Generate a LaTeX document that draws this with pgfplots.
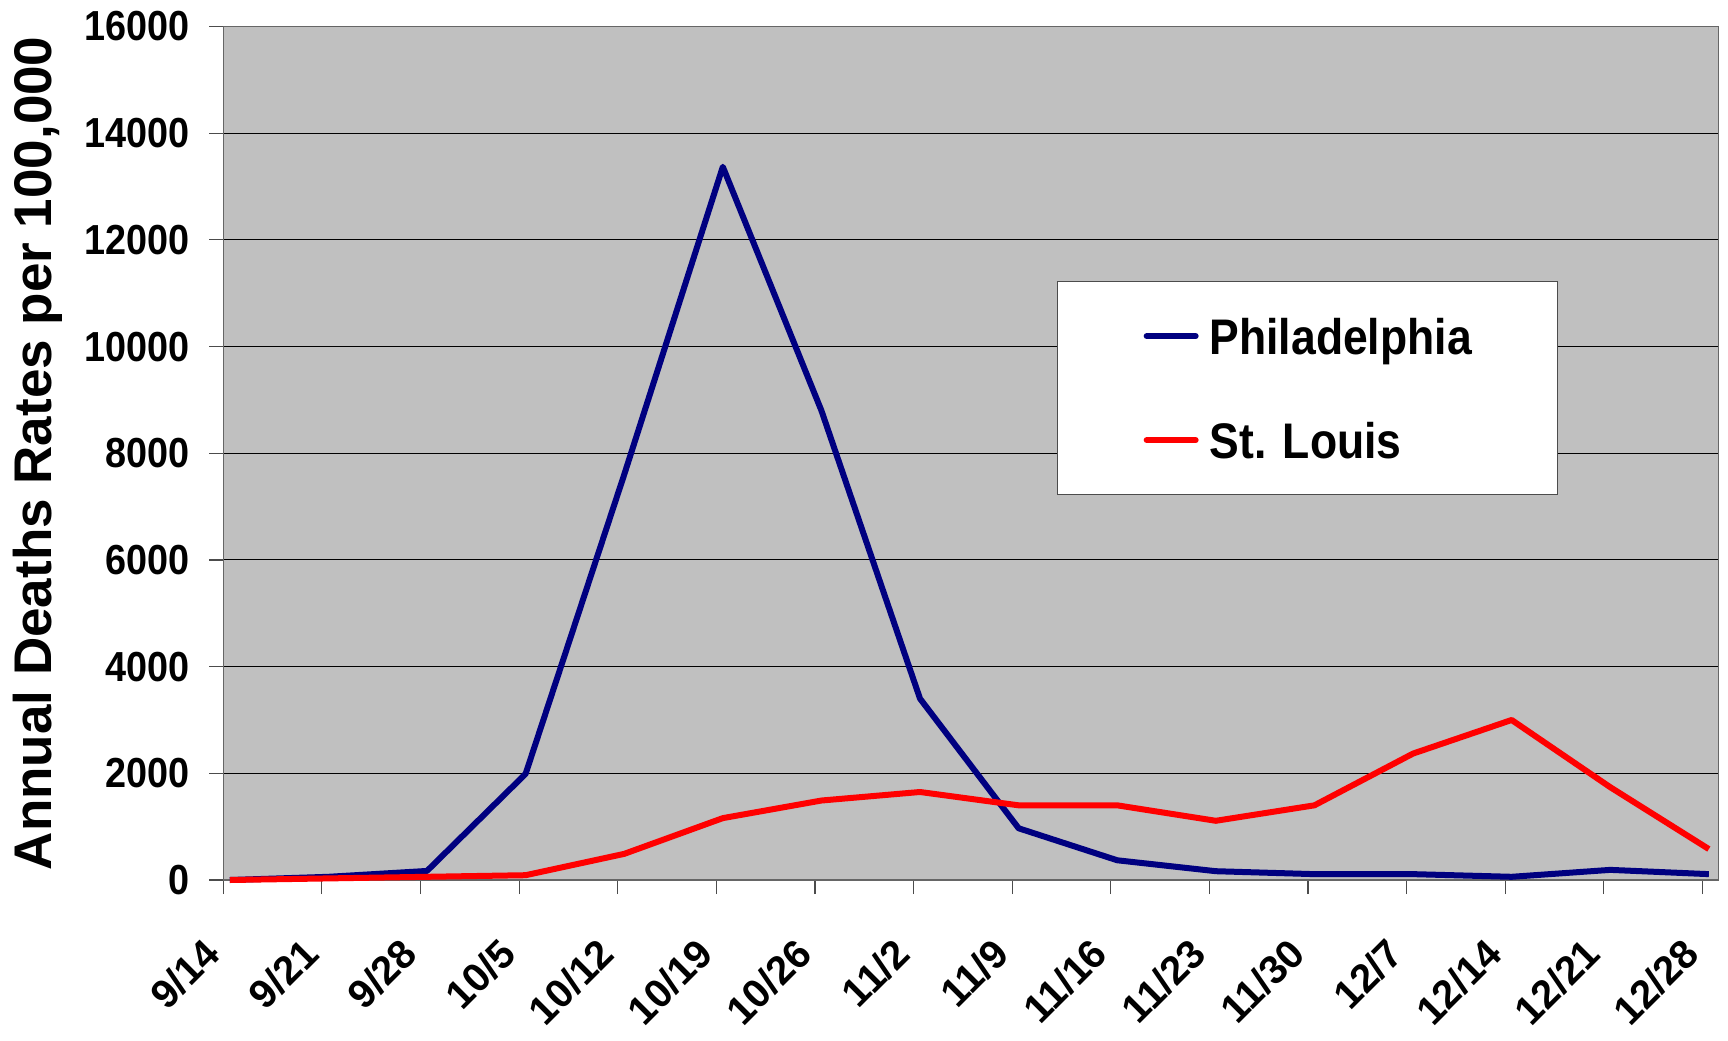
\documentclass[border=0pt]{standalone}
\usepackage{fontspec}
\setmainfont{Liberation Sans}
\newfontfamily\tickfont{Liberation Sans}[FakeStretch=0.9]
\newfontfamily\legfont{Liberation Sans}[FakeStretch=0.89]
\usepackage{pgfplots}
\pgfplotsset{compat=1.18}
\definecolor{navyline}{RGB}{0,0,128}
\definecolor{plotbg}{RGB}{192,192,192}
\begin{document}
\begin{tikzpicture}
\begin{axis}[
  scale only axis, width=747.5pt, height=426.75pt,
  xmin=-0.066, xmax=15.096, ymin=0, ymax=16000,
  clip=false,
  axis background/.style={fill=plotbg},
  axis line style={draw=black!60, line width=0.6pt},
  xtick={-0.066,0.934,1.934,2.934,3.934,4.934,5.934,6.934,7.934,8.934,9.934,10.934,11.934,12.934,13.934,14.934},
  xticklabels={9/14,9/21,9/28,10/5,10/12,10/19,10/26,11/2,11/9,11/16,11/23,11/30,12/7,12/14,12/21,12/28},
  ytick={0,2000,...,16000},
  scaled y ticks=false,
  ymajorgrids, grid style={black, line width=0.5pt},
  tick align=outside, major tick length=7pt,
  tick style={black!70, line width=0.6pt},
  xtick pos=left, ytick pos=left,
  /pgf/number format/assume math mode=true,
  /pgf/number format/1000 sep={},
  yticklabel style={font=\tickfont\bfseries\fontsize{21}{21}\selectfont, anchor=east, inner sep=0pt},
  yticklabel shift=9.8pt,
  xticklabel style={font=\bfseries\fontsize{20}{20}\selectfont, rotate=45, anchor=south east, inner sep=0pt},
  xticklabel shift=31.5pt,
  ylabel={Annual Deaths Rates per 100,000},
  every axis y label/.style={at={(axis description cs:0,0.5)}, xshift=-105.5pt, rotate=90, anchor=north, inner sep=0pt, font=\bfseries\fontsize{26.5}{26.5}\selectfont},
  legend style={at={(rel axis cs:0.5577,0.7018)}, anchor=north west, draw=black!70, line width=0.6pt, fill=white,
    inner xsep=43pt, inner ysep=18.3pt, row sep=34.1pt, column sep=5.5pt,
    font=\legfont\bfseries\fontsize{25}{25}\selectfont,
    nodes={inner sep=0pt, text height=17.9pt, text depth=0pt}},
  legend cell align=left,
  legend image code/.code={\draw[#1, line cap=round] (0pt,0pt) -- (24.5pt,0pt);},
]
\addplot[navyline, line width=3pt, line join=round] coordinates {
(0,0) (1,60) (2,170) (3,1990) (4,7600) (5,13370) (6,8800) (7,3400) (8,970) (9,370) (10,165) (11,110) (12,110) (13,60) (14,190) (15,110)
};
\addlegendentry{Philadelphia}
\addplot[red, line width=3pt, line join=round] coordinates {
(0,0) (1,30) (2,60) (3,90) (4,490) (5,1160) (6,1490) (7,1650) (8,1400) (9,1400) (10,1110) (11,1400) (12,2370) (13,3000) (14,1740) (15,580)
};
\addlegendentry{St. Louis}
\end{axis}
\pgfresetboundingbox
\path[use as bounding box] (current axis.south west) ++(-111.65pt,-80pt) rectangle ([shift={(4.85pt,13.25pt)}]current axis.north east);
\end{tikzpicture}
\end{document}
